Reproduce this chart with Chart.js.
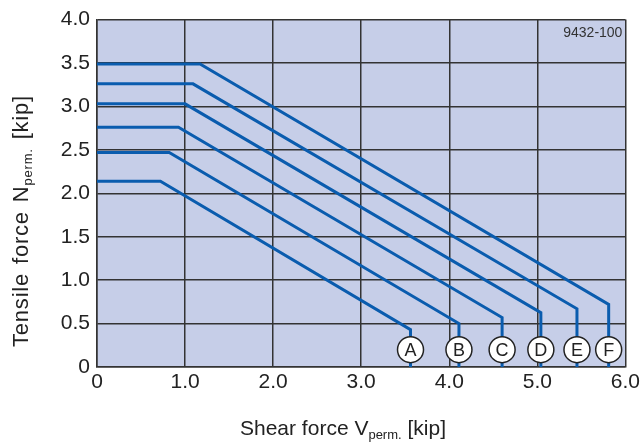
<!DOCTYPE html>
<html>
<head>
<meta charset="utf-8">
<script src="https://cdn.jsdelivr.net/npm/chart.js@4/dist/chart.umd.min.js"></script>
<style>
  html, body { margin: 0; padding: 0; background: #fff; }
  #wrap { width: 643px; height: 444px; }
</style>
</head>
<body>
<div id="wrap"><canvas id="myChart"></canvas></div>
<script>
const ctx = document.getElementById("myChart");

const series = ["A", "B", "C", "D", "E", "F"];
const plateauN = [2.14, 2.47, 2.76, 3.03, 3.26, 3.49];
const kneeV = [0.72, 0.82, 0.925, 1.0, 1.09, 1.17];
const endV = [3.56, 4.11, 4.6, 5.04, 5.45, 5.81];
const endN = [0.43, 0.5, 0.57, 0.625, 0.67, 0.72];
const markerN = 0.2;
const xTicks = ["0", "1.0", "2.0", "3.0", "4.0", "5.0", "6.0"];
const yTicks = ["0", "0.5", "1.0", "1.5", "2.0", "2.5", "3.0", "3.5", "4.0"];
const figureId = "9432-100";

const FONT = "'Liberation Sans', Arial, sans-serif";
const lineColor = "#0a5cae";

const datasets = [];

// circled letters, first so they sit on top
datasets.push({
  label: "markers",
  data: endV.map((v) => ({ x: v, y: markerN })),
  pointRadius: 13,
  pointHoverRadius: 13,
  pointBackgroundColor: "#ffffff",
  pointBorderColor: "#222222",
  pointBorderWidth: 1.5,
  showLine: false,
});

for (let i = 0; i < series.length; i++) {
  datasets.push({
    label: series[i],
    data: [
      { x: 0, y: plateauN[i] },
      { x: kneeV[i], y: plateauN[i] },
      { x: endV[i], y: endN[i] },
      { x: endV[i], y: 0 },
    ],
    showLine: true,
    borderColor: lineColor,
    borderWidth: 3,
    pointRadius: 0,
    fill: false,
    tension: 0,
  });
}

const plotBg = {
  id: "plotBg",
  beforeDraw(chart) {
    const a = chart.chartArea;
    const c = chart.ctx;
    c.save();
    c.fillStyle = "#c6cee8";
    c.fillRect(a.left, a.top, a.right - a.left, a.bottom - a.top);
    c.restore();
  },
};

// title with a small subscript part
function titleWithSub(c, main, sub, tail, size, x, y) {
  c.font = size + "px " + FONT;
  c.fillText(main, x, y);
  x += c.measureText(main).width;
  c.font = "13px " + FONT;
  c.fillText(sub, x, y + 4);
  x += c.measureText(sub).width;
  c.font = size + "px " + FONT;
  c.fillText(tail, x, y);
}

const extras = {
  id: "extras",
  afterDatasetsDraw(chart) {
    const c = chart.ctx;
    const a = chart.chartArea;
    c.save();
    // letters in circles
    const meta = chart.getDatasetMeta(0);
    c.fillStyle = "#222";
    c.font = "18px " + FONT;
    c.textAlign = "center";
    c.textBaseline = "middle";
    meta.data.forEach((pt, i) => {
      c.fillText(series[i], pt.x, pt.y + 1);
    });
    // figure id
    c.font = "14px " + FONT;
    c.textAlign = "right";
    c.textBaseline = "alphabetic";
    c.fillStyle = "#333";
    c.fillText(figureId, a.right - 3, a.top + 17);
    c.restore();
  },
  afterDraw(chart) {
    const c = chart.ctx;
    c.save();
    c.fillStyle = "#222";
    c.textBaseline = "alphabetic";
    c.textAlign = "left";
    titleWithSub(c, "Shear force V", "perm.", " [kip]", 21, 240, 435);
    c.translate(28, 347);
    c.rotate(-Math.PI / 2);
    c.letterSpacing = "0.8px";
    c.wordSpacing = "2px";
    titleWithSub(c, "Tensile force N", "perm.", " [kip]", 22, 0, 0);
    c.restore();
  },
};

new Chart(ctx, {
  type: "scatter",
  data: { datasets: datasets },
  plugins: [plotBg, extras],
  options: {
    responsive: true,
    maintainAspectRatio: false,
    animation: false,
    events: [],
    layout: { padding: { top: 15, right: 17, left: 0, bottom: 0 } },
    plugins: {
      legend: { display: false },
      tooltip: { enabled: false },
    },
    scales: {
      x: {
        type: "linear",
        min: 0,
        max: 6,
        afterFit: (s) => { s.height = 77; },
        afterBuildTicks: (s) => { s.ticks = xTicks.map((t, i) => ({ value: i })); },
        ticks: {
          callback: (v, i) => xTicks[i],
          font: { family: FONT, size: 21 },
          color: "#222",
          padding: 3,
          maxRotation: 0,
        },
        grid: { color: "#333", lineWidth: 1.5, drawTicks: false },
        border: { color: "#333", width: 1.5 },
      },
      y: {
        type: "linear",
        min: 0,
        max: 4,
        afterFit: (s) => { s.width = 97; },
        afterBuildTicks: (s) => { s.ticks = yTicks.map((t, i) => ({ value: i * 0.5 })); },
        ticks: {
          callback: (v, i) => yTicks[i],
          font: { family: FONT, size: 21 },
          color: "#222",
          padding: 7,
        },
        grid: { color: "#333", lineWidth: 1.5, drawTicks: false },
        border: { color: "#333", width: 1.5 },
      },
    },
  },
});
</script>
</body>
</html>
